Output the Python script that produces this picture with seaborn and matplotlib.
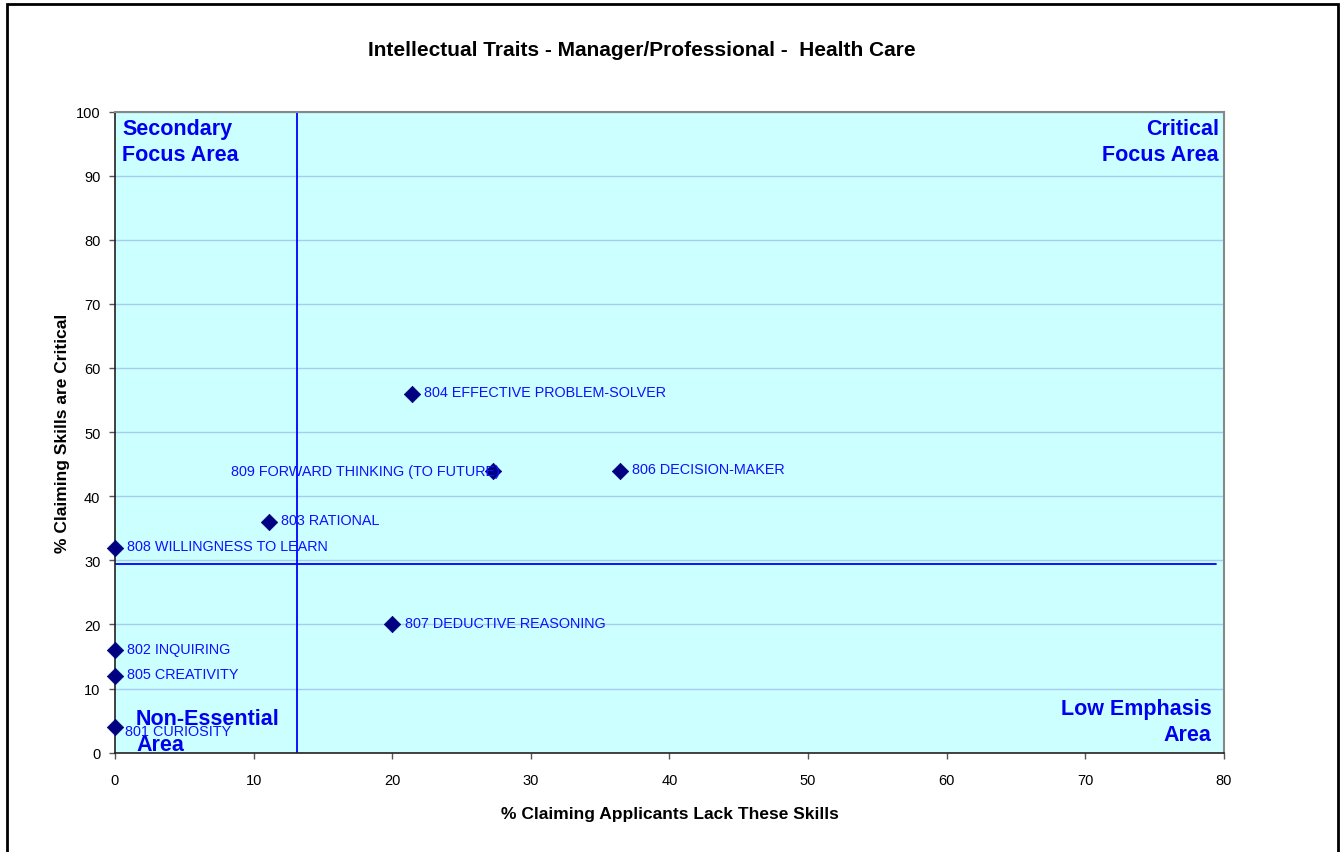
import matplotlib
matplotlib.use("Agg")
import matplotlib.pyplot as plt
import seaborn as sns
import pandas as pd
from matplotlib.patches import Rectangle

# values
labels = ["801 CURIOSITY", "802 INQUIRING", "803 RATIONAL",
          "804 EFFECTIVE PROBLEM-SOLVER", "805 CREATIVITY", "806 DECISION-MAKER",
          "807 DEDUCTIVE REASONING", "808 WILLINGNESS TO LEARN",
          "809 FORWARD THINKING (TO FUTURE)"]
lack_pct = [0, 0, 11.1, 21.4, 0, 36.4, 20.0, 0, 27.3]
critical_pct = [4, 16, 36, 56, 12, 44, 20, 32, 44]

# quadrant dividers
lack_avg = 13.1
critical_avg = 29.4
critical_line_end = 79.4

x_ticks = list(range(0, 81, 10))
y_ticks = list(range(0, 101, 10))

df = pd.DataFrame({"label": labels, "lack": lack_pct, "critical": critical_pct})

sns.set_style("white")
plt.rcParams['font.family'] = ['Liberation Sans', 'DejaVu Sans']
plt.rcParams['text.color'] = 'black'
plt.rcParams['axes.labelcolor'] = 'black'
plt.rcParams['xtick.color'] = 'black'
plt.rcParams['ytick.color'] = 'black'

fig = plt.figure(figsize=(13.43, 8.53), dpi=100)
ax = fig.add_axes([0.0856, 0.1164, 0.9114 - 0.0856, 0.8681 - 0.1164])
ax.set_facecolor("#CCFFFF")

ax.set_xlim(0, 80)
ax.set_ylim(0, 100)
ax.set_xticks(x_ticks)
ax.set_yticks(y_ticks)
ax.yaxis.grid(True, color="#A8CCF0", linewidth=1)
ax.xaxis.grid(False)
ax.set_axisbelow(True)

# reference lines
ax.axvline(lack_avg, color="#0000FF", linewidth=1.3, zorder=2)
ax.plot([0, critical_line_end], [critical_avg, critical_avg], color="#0000FF",
        linewidth=1.3, zorder=2)

sns.scatterplot(data=df, x="lack", y="critical", marker="D", s=70,
                color="#000080", edgecolor="#000080", linewidth=0.5,
                ax=ax, zorder=4, clip_on=False, legend=False)

# label offsets in points (dx, dy, ha)
offsets = {
    "801 CURIOSITY": (7, -3, "left"),
    "809 FORWARD THINKING (TO FUTURE)": (5, 0, "right"),
}
for lab, x, y in zip(labels, lack_pct, critical_pct):
    dx, dy, ha = offsets.get(lab, (9, 1, "left"))
    ax.annotate(lab, (x, y), xytext=(dx, dy), textcoords="offset points",
                ha=ha, va="center", fontsize=10.4, color="#1010FF", zorder=5)

qkw = dict(transform=ax.transAxes, fontsize=15.5, fontweight="bold",
           color="#0000EE", linespacing=1.3)
ax.text(0.0065, 0.99, "Secondary\nFocus Area", ha="left", va="top", **qkw)
ax.text(0.9955, 0.99, "Critical\nFocus Area", ha="right", va="top",
        multialignment="right", **qkw)
ax.text(0.9885, 0.012, "Low Emphasis\nArea", ha="right", va="bottom",
        multialignment="right", **qkw)
ax.text(0.019, -0.003, "Non-Essential\nArea", ha="left", va="bottom", **qkw)

for side in ["left", "bottom"]:
    ax.spines[side].set_color("#222222")
    ax.spines[side].set_linewidth(1.2)
for side in ["top", "right"]:
    ax.spines[side].set_color("#888888")
    ax.spines[side].set_linewidth(1.5)

ax.tick_params(axis="x", direction="out", length=4.5, width=1, color="#555555",
               pad=10, labelsize=10.5)
ax.tick_params(axis="y", direction="out", length=4.5, width=1, color="#555555",
               pad=6, labelsize=10.5)
ax.tick_params(bottom=True, left=True)

ax.set_xlabel("% Claiming Applicants Lack These Skills", fontsize=12.5,
              fontweight="bold", labelpad=14)
ax.set_ylabel("% Claiming Skills are Critical", fontsize=12.5,
              fontweight="bold", labelpad=4)

fig.text(0.478, 0.941, "Intellectual Traits - Manager/Professional -  Health Care",
         ha="center", va="center", fontsize=15, fontweight="bold")

fig.patches.append(Rectangle((0.0052, -0.02), 0.9911, 1.014, transform=fig.transFigure,
                             fill=False, edgecolor="black", linewidth=2))

fig.savefig("out.png", dpi=100)
